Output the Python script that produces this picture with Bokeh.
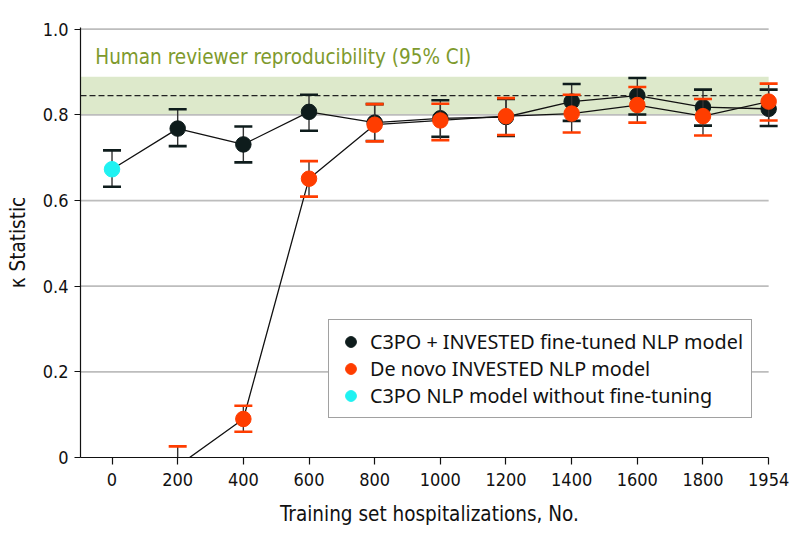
from bokeh.plotting import figure
from bokeh.models import (ColumnDataSource, Legend, LegendItem, Range1d, FixedTicker,
                          Label, PrintfTickFormatter)
from bokeh.embed import file_html
from bokeh.resources import INLINE

# ---------------- data ----------------
x_labels = ["0", "200", "400", "600", "800", "1000", "1200", "1400", "1600", "1800", "1954"]

# C3PO NLP model without fine-tuning (0 training hospitalizations)
base_val = [0.673]
base_lo = [0.632]
base_hi = [0.717]

# C3PO + INVESTED fine-tuned NLP model (200 ... 1954)
ft_val = [0.768, 0.731, 0.807, 0.782, 0.792, 0.795, 0.831, 0.845, 0.818, 0.814]
ft_lo = [0.727, 0.689, 0.763, 0.739, 0.749, 0.751, 0.786, 0.801, 0.775, 0.774]
ft_hi = [0.813, 0.773, 0.847, 0.825, 0.834, 0.837, 0.872, 0.886, 0.859, 0.859]

# De novo INVESTED NLP model (200 ... 1954)
dn_val = [-0.020, 0.090, 0.651, 0.777, 0.787, 0.797, 0.803, 0.823, 0.797, 0.831]
dn_lo = [-0.070, 0.060, 0.609, 0.738, 0.741, 0.753, 0.759, 0.782, 0.752, 0.787]
dn_hi = [0.026, 0.121, 0.692, 0.825, 0.826, 0.839, 0.847, 0.865, 0.837, 0.873]

# Human reviewer reproducibility (kappa and 95% CI)
human_val = 0.845
human_lo = 0.800
human_hi = 0.889

y_ticks = [0, 0.2, 0.4, 0.6, 0.8, 1.0]

# ---------------- style ----------------
BLACK = "#0e1c1c"
ORANGE = "#ff3d00"
CYAN = "#1ff2f2"
BAND = "#dde9cb"
GREEN = "#7e9a2d"
GRID = "#bdbdbd"
COND = "Liberation Sans Narrow, DejaVu Sans Condensed, sans-serif"
REG = "Noto Sans"

n = len(x_labels)
xi = list(range(n))
ft_x = xi[1:]
dn_x = xi[1:]

p = figure(width=794, height=542, output_backend="svg", toolbar_location=None,
           x_range=Range1d(-0.48, 10.15), y_range=Range1d(0, 1.004),
           min_border_left=80, min_border_right=16, min_border_top=27, min_border_bottom=85)
p.outline_line_color = None
p.xgrid.visible = False
p.ygrid.visible = False

x_left, x_right = -0.48, n - 1

# human reviewer band
p.quad(left=[x_left], right=[x_right], bottom=[human_lo], top=[human_hi],
       fill_color=BAND, line_color=None, level="underlay")
# gridlines
gy = [t for t in y_ticks if t > 0]
p.segment(x0=[x_left] * len(gy), x1=[x_right] * len(gy), y0=gy, y1=gy,
          line_color=GRID, line_width=1.8, level="underlay")
# human mean dashed line
p.segment(x0=[x_left], x1=[x_right], y0=[human_val], y1=[human_val],
          line_color="#222222", line_width=1.2, line_dash="6 3")

p.add_layout(Label(x=-0.255, y=0.935, text="Human reviewer reproducibility (95% CI)",
                   text_color=GREEN, text_font=COND, text_font_size="20.5px",
                   text_baseline="middle", text_align="left"))

# connecting lines
p.line(x=xi, y=base_val + ft_val, line_color="#111111", line_width=1.3)
p.line(x=dn_x, y=dn_val, line_color="#111111", line_width=1.3)


def errbars(x, lo, hi, col):
    src = ColumnDataSource(dict(x=x, lo=lo, hi=hi))
    p.segment(x0="x", x1="x", y0="lo", y1="hi", source=src, line_color="#333333", line_width=1.4)
    p.scatter(x="x", y="hi", source=src, marker="dash", size=18, line_color=col, line_width=2.6)
    p.scatter(x="x", y="lo", source=src, marker="dash", size=18, line_color=col, line_width=2.6)


errbars(ft_x, ft_lo, ft_hi, BLACK)
r_ft = p.scatter(x=ft_x, y=ft_val, size=15.5, fill_color=BLACK, line_color=BLACK)
errbars(dn_x, dn_lo, dn_hi, ORANGE)
r_dn = p.scatter(x=dn_x, y=dn_val, size=15.5, fill_color=ORANGE, line_color=ORANGE)
errbars([0], base_lo, base_hi, BLACK)
r_base = p.scatter(x=[0], y=base_val, size=15.5, fill_color=CYAN, line_color=CYAN)

# axes
p.xaxis.ticker = FixedTicker(ticks=xi)
p.xaxis.major_label_overrides = {i: lab for i, lab in enumerate(x_labels)}
p.xaxis.bounds = (x_left, x_right)
p.yaxis.ticker = FixedTicker(ticks=y_ticks)
p.yaxis.formatter = PrintfTickFormatter(format="%.1f")
p.yaxis.major_label_overrides = {0: "0"}
for ax in (p.xaxis[0], p.yaxis[0]):
    ax.axis_line_color = "#111111"
    ax.axis_line_width = 1.2
    ax.major_tick_line_color = "#111111"
    ax.major_tick_line_width = 1.2
    ax.major_tick_in = 0
    ax.minor_tick_line_color = None
    ax.major_label_text_font = COND
    ax.major_label_text_font_size = "18px"
    ax.major_label_text_color = "#111111"
    ax.axis_label_text_font = COND
    ax.axis_label_text_font_size = "20.5px"
    ax.axis_label_text_font_style = "normal"
    ax.axis_label_text_color = "#111111"
p.xaxis.major_tick_out = 7
p.yaxis.major_tick_out = 6
p.xaxis.axis_label = "Training set hospitalizations, No."
p.yaxis.axis_label = "κ Statistic"
p.xaxis.major_label_standoff = 8
p.yaxis.major_label_standoff = 6
p.xaxis.axis_label_standoff = 13
p.yaxis.axis_label_standoff = 10

legend = Legend(items=[
    LegendItem(label="C3PO + INVESTED fine-tuned NLP model", renderers=[r_ft]),
    LegendItem(label="De novo INVESTED NLP model", renderers=[r_dn]),
    LegendItem(label="C3PO NLP model without fine-tuning", renderers=[r_base]),
], location=(248, 39), orientation="vertical")
legend.label_text_font = REG
legend.label_text_font_size = "19.8px"
legend.label_text_color = "#111111"
legend.glyph_width = 27
legend.glyph_height = 27
legend.label_height = 27
legend.label_standoff = 6
legend.spacing = 0
legend.padding = 8
legend.margin = 0
legend.border_line_color = "#444444"
legend.border_line_width = 1.2
legend.background_fill_color = "white"
legend.background_fill_alpha = 1
p.add_layout(legend, "center")

open("out.html", "w").write(file_html(p, INLINE))
